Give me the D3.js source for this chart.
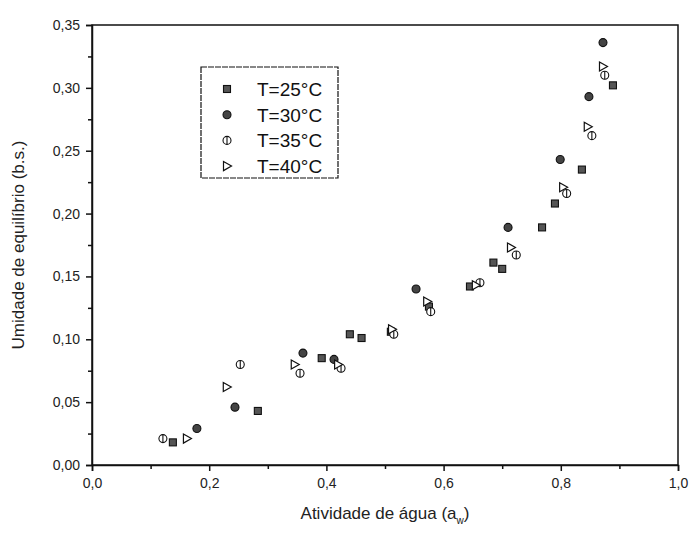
<!DOCTYPE html>
<html>
<head>
<meta charset="utf-8">
<script src="https://cdn.jsdelivr.net/npm/d3@7"></script>
<style>
  body { margin: 0; background: #fff; }
  svg { font-family: "Liberation Sans", Arial, sans-serif; }
</style>
</head>
<body>
<div id="chart"></div>
<script>
// Isotermas de sorção: umidade de equilíbrio vs atividade de água

const series = ["T=25°C", "T=30°C", "T=35°C", "T=40°C"];

const t25 = [
    [0.138, 0.018], [0.283, 0.043], [0.392, 0.085], [0.44, 0.104], [0.46, 0.101],
    [0.51, 0.106], [0.575, 0.126], [0.645, 0.142], [0.685, 0.161], [0.70, 0.156],
    [0.768, 0.189], [0.79, 0.208], [0.836, 0.235], [0.889, 0.302]
];
const t30 = [
    [0.179, 0.029], [0.244, 0.046], [0.36, 0.089], [0.413, 0.084], [0.553, 0.140],
    [0.71, 0.189], [0.799, 0.243], [0.848, 0.293], [0.872, 0.336]
];
const t35 = [
    [0.121, 0.021], [0.253, 0.080], [0.355, 0.073], [0.425, 0.077], [0.515, 0.104],
    [0.578, 0.122], [0.662, 0.145], [0.724, 0.167], [0.81, 0.216], [0.853, 0.262],
    [0.875, 0.310]
];
const t40 = [
    [0.162, 0.021], [0.23, 0.062], [0.346, 0.080], [0.42, 0.080], [0.512, 0.108],
    [0.572, 0.130], [0.655, 0.143], [0.715, 0.173], [0.804, 0.221], [0.846, 0.269],
    [0.872, 0.317]
];

const xTicks = [0, 0.2, 0.4, 0.6, 0.8, 1.0];
const yTicks = [0, 0.05, 0.10, 0.15, 0.20, 0.25, 0.30, 0.35];

function drawChart() {
    const width = 689, height = 533;
    const margin = { left: 92, right: 11, top: 25, bottom: 68 };

    const svg = d3.select("#chart").append("svg")
        .attr("width", width)
        .attr("height", height);

    const x = d3.scaleLinear().domain([0, 1]).range([margin.left, width - margin.right]);
    const y = d3.scaleLinear().domain([0, 0.35]).range([height - margin.bottom, margin.top]);

    const comma = f => d => d3.format(f)(d).replace(".", ",");

    // frame
    svg.append("rect")
        .attr("x", x(0)).attr("y", y(0.35))
        .attr("width", x(1) - x(0)).attr("height", y(0) - y(0.35))
        .attr("fill", "none").attr("stroke", "#111").attr("stroke-width", 1.5);

    svg.append("g")
        .attr("transform", `translate(0,${y(0)})`)
        .call(d3.axisBottom(x).tickValues(xTicks).tickFormat(comma(".1f")).tickSize(6).tickPadding(7));
    svg.append("g")
        .attr("transform", `translate(0,${y(0)})`)
        .call(d3.axisBottom(x).tickValues(d3.range(0.1, 1, 0.2)).tickFormat("").tickSize(4))
        .select(".domain").remove();

    svg.append("g")
        .attr("transform", `translate(${x(0)},0)`)
        .call(d3.axisLeft(y).tickValues(yTicks).tickFormat(comma(".2f")).tickSize(6).tickPadding(6));
    svg.append("g")
        .attr("transform", `translate(${x(0)},0)`)
        .call(d3.axisLeft(y).tickValues(d3.range(0.025, 0.35, 0.05)).tickFormat("").tickSize(4))
        .select(".domain").remove();

    svg.selectAll(".domain").attr("stroke", "#111").attr("stroke-width", 1.5);
    svg.selectAll(".tick line").attr("stroke", "#111").attr("stroke-width", 1.5);
    svg.selectAll(".tick text").attr("fill", "#222").style("font-size", "14px");

    // axis titles
    const xt = svg.append("text")
        .attr("x", (x(0) + x(1)) / 2).attr("y", height - 14)
        .attr("text-anchor", "middle")
        .style("font-size", "17px").attr("fill", "#222");
    xt.append("tspan").text("Atividade de água (a");
    xt.append("tspan").attr("dy", 5).style("font-size", "10px").text("w");
    xt.append("tspan").attr("dy", -5).text(")");

    svg.append("text")
        .attr("transform", `translate(24,${(y(0) + y(0.35)) / 2}) rotate(-90)`)
        .attr("text-anchor", "middle")
        .style("font-size", "17px").attr("fill", "#222")
        .text("Umidade de equilíbrio (b.s.)");

    // markers
    const markers = [
        (g) => g.append("rect").attr("x", -3.5).attr("y", -3.5).attr("width", 7).attr("height", 7)
                .attr("fill", "#555").attr("stroke", "#111").attr("stroke-width", 1.1),
        (g) => g.append("circle").attr("r", 4)
                .attr("fill", "#444").attr("stroke", "#111").attr("stroke-width", 1.1),
        (g) => {
            g.append("circle").attr("r", 4).attr("fill", "#fff").attr("stroke", "#111").attr("stroke-width", 1.1);
            g.append("line").attr("x1", 0).attr("x2", 0).attr("y1", -4).attr("y2", 4)
                .attr("stroke", "#111").attr("stroke-width", 1.1);
        },
        (g) => g.append("path").attr("d", "M-3.5,-4.5L4.5,0L-3.5,4.5Z")
                .attr("fill", "#fff").attr("stroke", "#111").attr("stroke-width", 1.2)
    ];

    const allData = [t25, t30, t35, t40];
    allData.forEach((data, i) => {
        svg.append("g").selectAll("g")
            .data(data)
            .enter()
            .append("g")
            .attr("transform", d => `translate(${x(d[0])},${y(d[1])})`)
            .each(function () { markers[i](d3.select(this)); });
    });

    // legend
    const legend = svg.append("g");
    legend.append("rect")
        .attr("x", 201).attr("y", 67).attr("width", 137).attr("height", 111)
        .attr("fill", "#fff").attr("stroke", "#111").attr("stroke-width", 1.2)
        .attr("stroke-dasharray", "6,1");
    series.forEach((s, i) => {
        const row = legend.append("g").attr("transform", `translate(227,${89 + i * 25.7})`);
        markers[i](row);
        row.append("text").attr("x", 30).attr("y", 7)
            .style("font-size", "19px").attr("fill", "#111")
            .text(s);
    });
}

drawChart();
</script>
</body>
</html>
